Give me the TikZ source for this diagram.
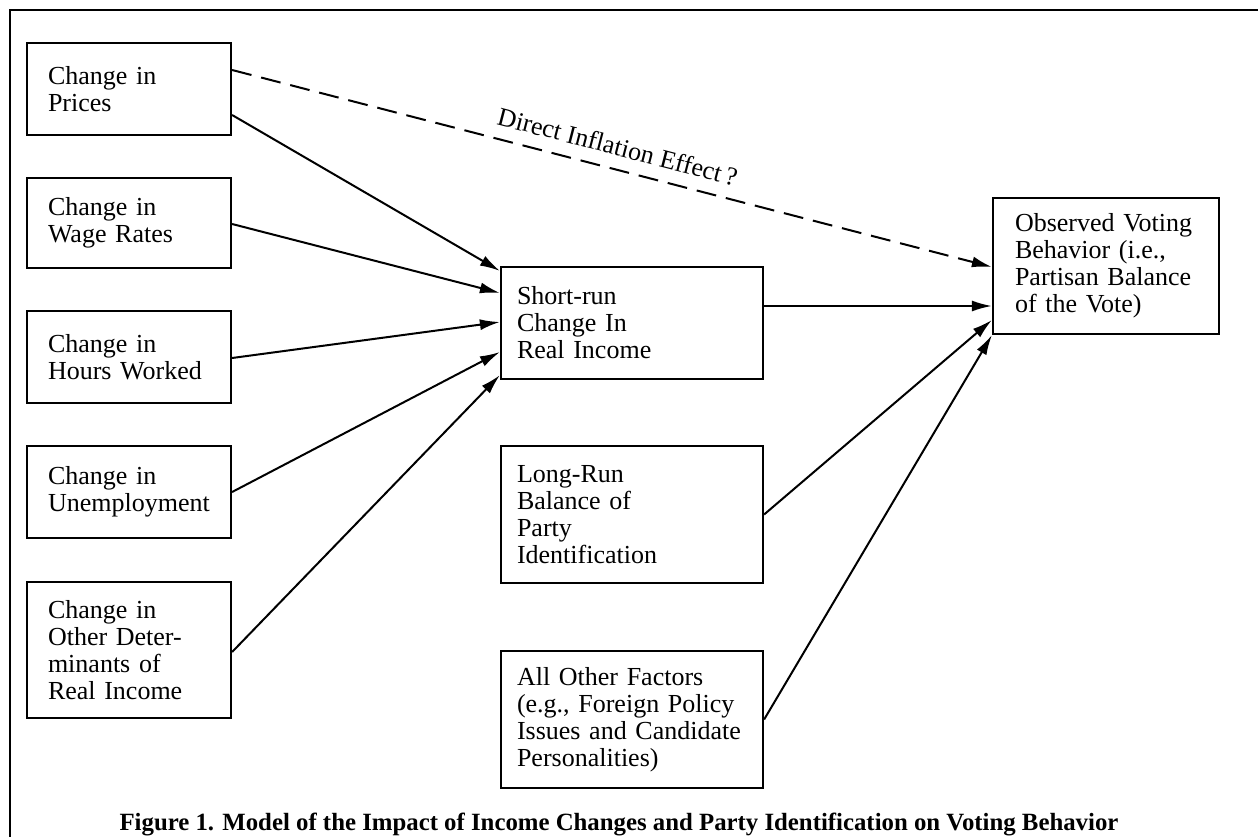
\documentclass[tikz,border=0pt]{standalone}
\usepackage{fontspec}
\setmainfont{Liberation Serif}
\usetikzlibrary{arrows.meta,calc}
\begin{document}
\begin{tikzpicture}[x=1pt,y=-1pt,
  box/.style={draw, line width=2.2pt, rectangle, align=left, inner ysep=0pt,
    font=\fontsize{26}{27}\selectfont},
  lbox/.style={box, text width=162pt, inner xsep=21pt},
  mbox/.style={box, text width=230pt, inner xsep=16pt},
  rbox/.style={box, text width=182pt, inner xsep=22pt},
  conn/.style={line width=2pt, -{Latex[length=20pt,width=11pt]}},
  dconn/.style={conn, dash pattern=on 20pt off 10pt},
  frame/.style={line width=2pt}]
\useasboundingbox (0,0) rectangle (1258,837);
% frame
\coordinate (fa) at (10,837);
\coordinate (fb) at (10,10);
\coordinate (fc) at (1258,10);
\draw[frame] (fa) -- (fb) -- (fc);
% left boxes
\node[lbox, minimum height=92pt] (p) at (129,89) {Change in\\Prices};
\node[lbox, minimum height=90pt] (w) at (129,223) {Change in\\Wage Rates};
\node[lbox, minimum height=92pt] (h) at (129,357) {Change in\\Hours Worked};
\node[lbox, minimum height=92pt] (u) at (129,492) {Change in\\Unemployment};
\node[lbox, minimum height=136pt] (o) at (129,650) {Change in\\Other Deter-\\minants of\\Real Income};
% middle boxes
\node[mbox, minimum height=112pt] (s) at (632,323) {Short-run\\Change In\\Real Income};
\node[mbox, minimum height=137pt] (l) at (632,514.5) {Long-Run\\Balance of\\Party\\Identification};
\node[mbox, minimum height=137pt] (a) at (632,719.5) {All Other Factors\\(e.g., Foreign Policy\\Issues and Candidate\\Personalities)};
% right box
\node[rbox, minimum height=136pt] (r) at (1106,266) {Observed Voting\\Behavior (i.e.,\\Partisan Balance\\of the Vote)};
% connectors
\draw[conn] ($(p.east)+(0,26)$) -- ($(s.north west)+(0,5)$);
\draw[conn] ($(w.east)+(0,1)$) -- ($(s.west)+(0,-30)$);
\draw[conn] ($(h.east)+(0,1)$) -- ($(s.west)+(0,-1)$);
\draw[conn] (u.east) -- ($(s.west)+(0,29)$);
\draw[conn] ($(o.east)+(0,2)$) -- ($(s.south west)+(0,-5)$);
\draw[conn] ($(s.east)+(0,-17)$) -- ($(r.west)+(0,40)$);
\draw[conn] (l.east) -- ($(r.west)+(0,54)$);
\draw[conn] (a.east) -- (r.south west);
\draw[dconn] ($(p.east)+(0,-19)$) -- ($(r.west)+(0,1)$)
  node[pos=0.5, above=9pt, sloped, font=\fontsize{26}{27}\selectfont] (lab) {Direct Inflation Effect\,?};
% caption
\node[anchor=base, font=\fontsize{24.8}{26}\selectfont\bfseries] (cap) at (619,830)
  {Figure 1. Model of the Impact of Income Changes and Party Identification on Voting Behavior};
\end{tikzpicture}
\end{document}
